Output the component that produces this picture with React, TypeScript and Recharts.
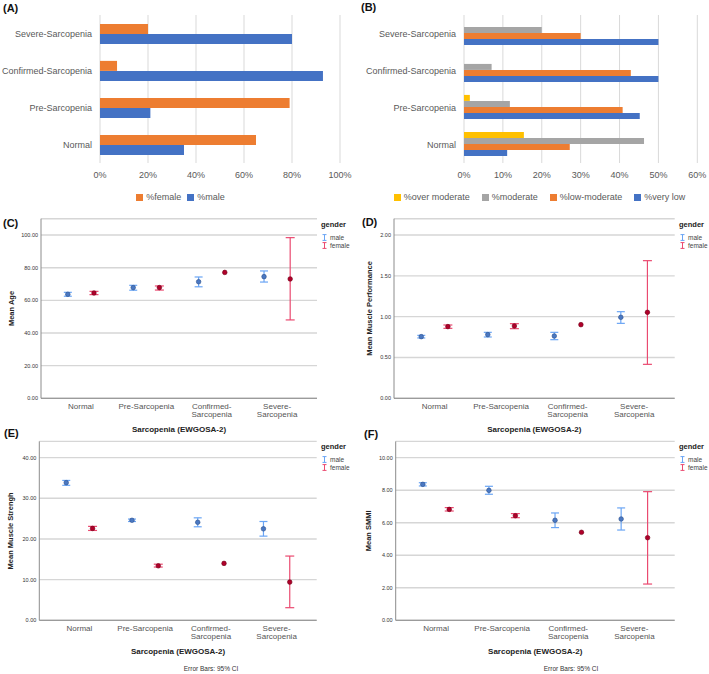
import React from "react";
import {
  Bar,
  BarChart,
  CartesianGrid,
  ErrorBar,
  Label,
  Legend,
  Scatter,
  ScatterChart,
  XAxis,
  YAxis,
} from "recharts";

const FONT = '"Liberation Sans", Arial, sans-serif';

// (A) gender split per group, listed top-to-bottom as in the Excel chart
const barCats = ["Severe-Sarcopenia", "Confirmed-Sarcopenia", "Pre-Sarcopenia", "Normal"];
const femalePct = [20, 7.1, 79, 65];
const malePct = [80, 92.9, 21, 35];
const ticksA = [0, 20, 40, 60, 80, 100];

// (B) physical activity level per group
const overModeratePct = [0, 0, 1.5, 15.4];
const moderatePct = [20, 7.1, 11.8, 46.3];
const lowModeratePct = [30, 42.9, 40.8, 27.2];
const veryLowPct = [50, 50, 45.2, 11.1];
const ticksB = [0, 10, 20, 30, 40, 50, 60];

// (C)-(F) SPSS error-bar plots, x order Normal -> Severe
const sarcTickLines = [["Normal"], ["Pre-Sarcopenia"], ["Confirmed-", "Sarcopenia"], ["Severe-", "Sarcopenia"]];

const ageMaleMean = [63.7, 67.8, 71.4, 74.5];
const ageMaleLo = [62.5, 66.2, 68.3, 71.2];
const ageMaleHi = [64.9, 69.2, 74.3, 78.0];
const ageFemaleMean = [64.5, 67.8, 77.1, 73.1];
const ageFemaleLo = [63.5, 66.3, null, 48.0];
const ageFemaleHi = [65.5, 68.8, null, 98.4];

const perfMaleMean = [0.755, 0.78, 0.763, 0.992];
const perfMaleLo = [0.739, 0.751, 0.718, 0.918];
const perfMaleHi = [0.771, 0.808, 0.808, 1.061];
const perfFemaleMean = [0.878, 0.886, 0.902, 1.053];
const perfFemaleLo = [0.857, 0.853, null, 0.416];
const perfFemaleHi = [0.898, 0.914, null, 1.686];

const strMaleMean = [33.85, 24.6, 24.1, 22.5];
const strMaleLo = [33.2, 24.3, 23.0, 20.7];
const strMaleHi = [34.4, 24.9, 25.2, 24.3];
const strFemaleMean = [22.6, 13.4, 14.0, 9.4];
const strFemaleLo = [22.1, 13.1, null, 3.1];
const strFemaleHi = [23.1, 13.8, null, 15.8];

const smmiMaleMean = [8.36, 7.99, 6.15, 6.23];
const smmiMaleLo = [8.26, 7.75, 5.7, 5.55];
const smmiMaleHi = [8.46, 8.24, 6.6, 6.91];
const smmiFemaleMean = [6.82, 6.43, 5.41, 5.08];
const smmiFemaleLo = [6.72, 6.31, null, 2.23];
const smmiFemaleHi = [6.93, 6.56, null, 7.91];

const ORANGE = "#ed7d31";
const BLUE = "#4472c4";
const GREY = "#a5a5a5";
const YELLOW = "#ffc000";

const MALE_BAR = "#6aa5f4";
const MALE_DOT = "#4a78c2";
const FEMALE_BAR = "#ea4a70";
const FEMALE_DOT = "#b0002a";

const legendA = [
  { name: "%female", color: ORANGE },
  { name: "%male", color: BLUE },
];
const legendB = [
  { name: "%over moderate", color: YELLOW },
  { name: "%moderate", color: GREY },
  { name: "%low-moderate", color: ORANGE },
  { name: "%very low", color: BLUE },
];

type Row = { x: number; y: number; err: [number, number] | null };

function toRows(mean: number[], lo: (number | null)[], hi: (number | null)[], dodge: number): Row[] {
  return mean.map((m, i) => {
    const l = lo[i];
    const h = hi[i];
    return { x: i + dodge, y: m, err: l == null || h == null ? null : [m - l, h - m] };
  });
}

const dataA = barCats.map((cat, i) => ({ cat, female: femalePct[i], male: malePct[i] }));
const dataB = barCats.map((cat, i) => ({
  cat,
  over: overModeratePct[i],
  moderate: moderatePct[i],
  low: lowModeratePct[i],
  veryLow: veryLowPct[i],
}));

// legend order is fixed here; recharts would sort the payload by name
function excelLegend(items: { name: string; color: string }[], padLeft: number, gap: number) {
  return () => (
    <div
      style={{
        height: 14,
        display: "flex",
        justifyContent: "center",
        alignItems: "center",
        paddingLeft: padLeft,
        fontFamily: FONT,
        fontSize: 9,
        color: "#595959",
        whiteSpace: "nowrap",
      }}
    >
      {items.map((p, i) => (
        <span key={i} style={{ display: "flex", alignItems: "center", marginLeft: i ? gap : 0 }}>
          <span style={{ display: "inline-block", width: 7, height: 7, background: p.color, marginRight: 3 }} />
          {p.name}
        </span>
      ))}
    </div>
  );
}

const excelTick = { fontSize: 9, fill: "#595959", fontFamily: FONT };

function PanelA() {
  return (
    <BarChart
      width={354}
      height={210}
      data={dataA}
      layout="vertical"
      margin={{ top: 15, right: 14, bottom: 6, left: 0 }}
      barCategoryGap="24%"
      barGap={0}
    >
      <CartesianGrid horizontal={false} stroke="#d9d9d9" />
      <XAxis type="number" domain={[0, 100]} ticks={ticksA} tickFormatter={(v) => `${v}%`}
        axisLine={false} tickLine={false} tick={excelTick} tickMargin={3} height={27} />
      <YAxis type="category" dataKey="cat" width={100} axisLine={false} tickLine={false} tick={excelTick} />
      <Legend verticalAlign="bottom" wrapperStyle={{ left: 0, width: 354 }} content={excelLegend(legendA, 7, 6)} />
      <Bar dataKey="female" name="%female" fill={ORANGE} isAnimationActive={false} />
      <Bar dataKey="male" name="%male" fill={BLUE} isAnimationActive={false} />
    </BarChart>
  );
}

function PanelB() {
  return (
    <BarChart
      width={355}
      height={210}
      data={dataB}
      layout="vertical"
      margin={{ top: 15, right: 11.7, bottom: 6, left: 0 }}
      barCategoryGap="16%"
      barGap={0}
    >
      <CartesianGrid horizontal={false} stroke="#d9d9d9" />
      <XAxis type="number" domain={[0, 60]} ticks={ticksB} tickFormatter={(v) => `${v}%`}
        axisLine={false} tickLine={false} tick={excelTick} tickMargin={3} height={27} />
      <YAxis type="category" dataKey="cat" width={110} axisLine={false} tickLine={false} tick={excelTick} />
      <Legend verticalAlign="bottom" wrapperStyle={{ left: 0, width: 355 }} content={excelLegend(legendB, 16, 12)} />
      <Bar dataKey="over" name="%over moderate" fill={YELLOW} isAnimationActive={false} />
      <Bar dataKey="moderate" name="%moderate" fill={GREY} isAnimationActive={false} />
      <Bar dataKey="low" name="%low-moderate" fill={ORANGE} isAnimationActive={false} />
      <Bar dataKey="veryLow" name="%very low" fill={BLUE} isAnimationActive={false} />
    </BarChart>
  );
}

function CatTick(props: any) {
  const { x, y, payload } = props;
  const lines = sarcTickLines[Math.round(payload.value)] || [];
  return (
    <text x={x} y={y} textAnchor="middle" fontSize={8} fill="#555" fontFamily={FONT}>
      {lines.map((l, i) => (
        <tspan key={i} x={x} dy={i === 0 ? 10.5 : 8.4}>
          {l}
        </tspan>
      ))}
    </text>
  );
}

const dotShape = (fill: string, stroke: string) => (p: any) =>
  <circle cx={p.cx} cy={p.cy} r={2.3} fill={fill} stroke={stroke} strokeWidth={0.6} />;

type SpssProps = {
  left: number;
  top: number;
  width: number;
  height: number;
  plotLeft: number;
  plotRight: number;
  plotTop: number;
  plotBottom: number;
  yMax: number;
  yTicks: number[];
  yLabel: string;
  yTitleX: number;
  male: Row[];
  female: Row[];
};

function SpssPanel(p: SpssProps) {
  const axisH = 36;
  const yAxisW = p.plotLeft - p.left;
  const midX = (p.plotLeft + p.plotRight) / 2 - p.left;
  const midY = (p.plotTop + p.plotBottom) / 2 - p.top;
  const titleY = p.plotBottom - p.top + 31.6;
  return (
    <div style={{ position: "absolute", left: p.left, top: p.top }}>
      <ScatterChart
        width={p.width}
        height={p.height}
        margin={{
          top: p.plotTop - p.top,
          right: p.left + p.width - p.plotRight,
          bottom: p.top + p.height - p.plotBottom - axisH,
          left: 0,
        }}
      >
        <CartesianGrid vertical={false} stroke="#d6d6d6" strokeWidth={1.4} />
        <XAxis type="number" dataKey="x" domain={[-0.61, 3.61]} ticks={[0, 1, 2, 3]} interval={0}
          allowDataOverflow height={axisH} tickLine={false} tickSize={0} tickMargin={0}
          axisLine={{ stroke: "#8c8c8c" }} tick={<CatTick />}>
          <Label
            content={() => (
              <text x={midX} y={titleY} textAnchor="middle" dominantBaseline="central"
                fontSize={8} fontWeight="bold" fill="#222" fontFamily={FONT}>
                Sarcopenia (EWGOSA-2)
              </text>
            )}
          />
        </XAxis>
        <YAxis type="number" dataKey="y" domain={[0, p.yMax]} ticks={p.yTicks} allowDataOverflow
          width={yAxisW} tickLine={false} tickSize={0} tickMargin={3}
          axisLine={{ stroke: "#8c8c8c" }} tickFormatter={(v) => Number(v).toFixed(2)}
          tick={{ fontSize: 5.5, fill: "#333", fontFamily: FONT }}>
          <Label
            content={() => (
              <text x={p.yTitleX} y={midY} transform={`rotate(-90 ${p.yTitleX} ${midY})`}
                textAnchor="middle" dominantBaseline="central" fontSize={7.5} fontWeight="bold"
                fill="#222" fontFamily={FONT}>
                {p.yLabel}
              </text>
            )}
          />
        </YAxis>
        <Scatter data={p.male} name="male" isAnimationActive={false} shape={dotShape(MALE_DOT, "#2b4f8c")}>
          <ErrorBar dataKey="err" direction="y" width={4} stroke={MALE_BAR} strokeWidth={1.2} isAnimationActive={false} />
        </Scatter>
        <Scatter data={p.female} name="female" isAnimationActive={false} shape={dotShape(FEMALE_DOT, "#6e0018")}>
          <ErrorBar dataKey="err" direction="y" width={4.5} stroke={FEMALE_BAR} strokeWidth={1.2} isAnimationActive={false} />
        </Scatter>
      </ScatterChart>
    </div>
  );
}

function Beam({ color }: { color: string }) {
  return (
    <svg width={5} height={7} style={{ display: "block" }}>
      <path d="M0.5 0.6H4.5M2.5 0.6V6.4M0.5 6.4H4.5" stroke={color} strokeWidth={1} fill="none" />
    </svg>
  );
}

function GenderKey({ x, y }: { x: number; y: number }) {
  const row = (top: number, color: string, text: string) => (
    <div style={{ position: "absolute", left: 0, top, display: "flex", alignItems: "center", height: 8 }}>
      <Beam color={color} />
      <span style={{ marginLeft: 3, fontSize: 6.5, color: "#444" }}>{text}</span>
    </div>
  );
  return (
    <div style={{ position: "absolute", left: x, top: y, fontFamily: FONT }}>
      <div style={{ position: "absolute", left: -1, top: -5, fontSize: 7.5, fontWeight: "bold", color: "#222", whiteSpace: "nowrap" }}>
        gender
      </div>
      {row(8, MALE_BAR, "male")}
      {row(16.5, FEMALE_BAR, "female")}
    </div>
  );
}

function PanelTag({ x, y, text }: { x: number; y: number; text: string }) {
  return (
    <div style={{ position: "absolute", left: x, top: y, fontFamily: FONT, fontSize: 11, fontWeight: "bold", color: "#111", lineHeight: "12px" }}>
      {text}
    </div>
  );
}

function Note({ cx, y }: { cx: number; y: number }) {
  return (
    <div style={{ position: "absolute", left: cx - 40, top: y - 4, width: 80, textAlign: "center", fontFamily: FONT, fontSize: 6.5, color: "#333", lineHeight: "8px" }}>
      Error Bars: 95% CI
    </div>
  );
}

export default function App() {
  return (
    <div style={{ position: "absolute", left: 0, top: 0, width: 709, height: 674, background: "#fff", overflow: "hidden" }}>
      <div style={{ position: "absolute", left: 0, top: 0 }}>
        <PanelA />
      </div>
      <div style={{ position: "absolute", left: 354, top: 0 }}>
        <PanelB />
      </div>

      <SpssPanel left={0} top={210} width={354} height={230} plotLeft={41} plotRight={317} plotTop={218.7}
        plotBottom={398.3} yMax={110} yTicks={[0, 20, 40, 60, 80, 100]} yLabel="Mean Age" yTitleX={11}
        male={toRows(ageMaleMean, ageMaleLo, ageMaleHi, -0.2)}
        female={toRows(ageFemaleMean, ageFemaleLo, ageFemaleHi, 0.2)} />
      <SpssPanel left={354} top={210} width={355} height={230} plotLeft={394} plotRight={674.7} plotTop={218.7}
        plotBottom={398.3} yMax={2.2} yTicks={[0, 0.5, 1, 1.5, 2]} yLabel="Mean Muscle Performance" yTitleX={15}
        male={toRows(perfMaleMean, perfMaleLo, perfMaleHi, -0.2)}
        female={toRows(perfFemaleMean, perfFemaleLo, perfFemaleHi, 0.2)} />
      <SpssPanel left={0} top={440} width={354} height={234} plotLeft={39.3} plotRight={316.7} plotTop={441.4}
        plotBottom={620.3} yMax={44} yTicks={[0, 10, 20, 30, 40]} yLabel="Mean Muscle Strengh" yTitleX={11}
        male={toRows(strMaleMean, strMaleLo, strMaleHi, -0.2)}
        female={toRows(strFemaleMean, strFemaleLo, strFemaleHi, 0.2)} />
      <SpssPanel left={354} top={440} width={355} height={234} plotLeft={395.7} plotRight={674.7} plotTop={441.4}
        plotBottom={620.3} yMax={11} yTicks={[0, 2, 4, 6, 8, 10]} yLabel="Mean SMMI" yTitleX={15}
        male={toRows(smmiMaleMean, smmiMaleLo, smmiMaleHi, -0.2)}
        female={toRows(smmiFemaleMean, smmiFemaleLo, smmiFemaleHi, 0.2)} />

      <GenderKey x={322} y={225} />
      <GenderKey x={680} y={225} />
      <GenderKey x={322} y={447} />
      <GenderKey x={680} y={447} />

      <Note cx={211} y={669} />
      <Note cx={571} y={669} />

      <PanelTag x={3} y={2} text="(A)" />
      <PanelTag x={361} y={1} text="(B)" />
      <PanelTag x={3} y={217} text="(C)" />
      <PanelTag x={362} y={216} text="(D)" />
      <PanelTag x={4} y={427} text="(E)" />
      <PanelTag x={364} y={428} text="(F)" />
    </div>
  );
}
